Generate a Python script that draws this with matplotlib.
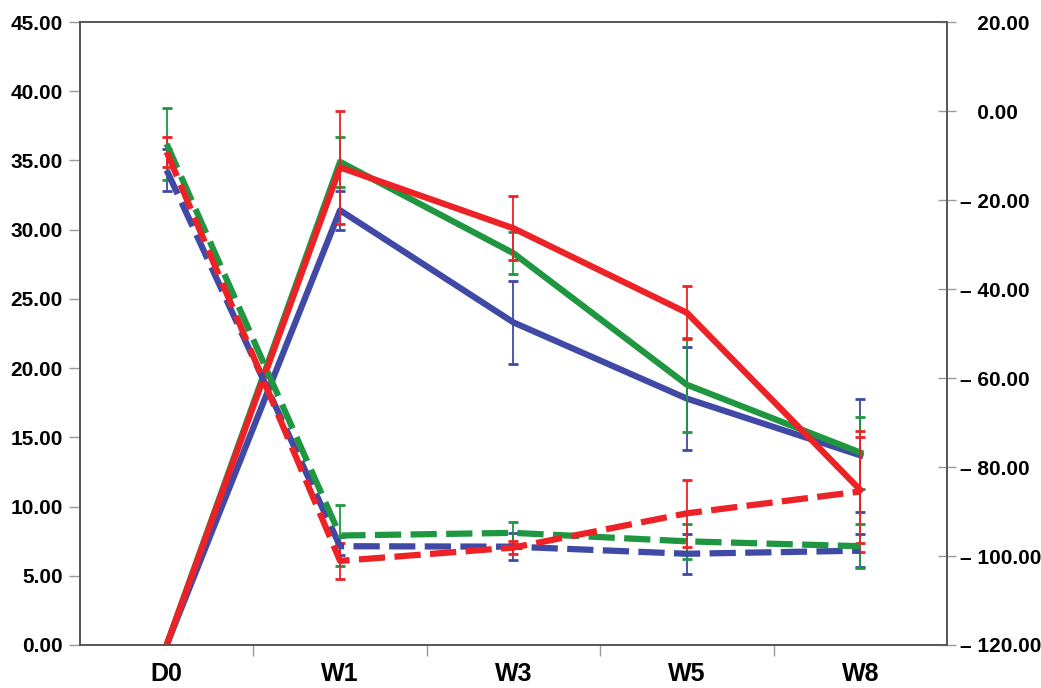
import numpy as np
import matplotlib.pyplot as plt
from matplotlib.ticker import FuncFormatter, FixedLocator

plt.rcParams['font.family'] = ['Liberation Sans', 'DejaVu Sans']
plt.rcParams['font.weight'] = 'bold'

weeks = ['D0', 'W1', 'W3', 'W5', 'W8']

# solid lines, left axis
solid_green = [0.0, 34.9, 28.3, 18.8, 13.9]
solid_green_err = [0.0, 1.8, 1.5, 3.4, 2.6]
solid_red = [0.0, 34.5, 30.1, 24.0, 11.2]
solid_red_err = [0.0, 4.1, 2.3, 1.9, 3.8]
solid_blue = [0.0, 31.4, 23.3, 17.8, 13.7]
solid_blue_err = [0.0, 1.4, 3.0, 3.7, 4.1]

# dashed lines, right axis
dash_green = [-7.4, -95.4, -94.8, -96.7, -97.8]
dash_green_err = [8.1, 6.8, 2.5, 4.0, 5.0]
dash_red = [-9.2, -101.1, -98.1, -90.4, -85.5]
dash_red_err = [3.4, 4.0, 1.5, 7.5, 13.7]
dash_blue = [-13.3, -97.8, -97.9, -99.5, -98.8]
dash_blue_err = [4.7, 2.0, 3.1, 4.5, 3.7]

green = '#1f9640'
red = '#ec2226'
blue = '#4049a6'

fig = plt.figure(figsize=(10.41, 6.88), dpi=100)
ax = fig.add_axes([0.0768, 0.0625, 0.8329, 0.9055])
ax2 = ax.twinx()

x = np.arange(len(weeks))
lw = 4.5
eb = dict(elinewidth=1.3, capsize=3.5, capthick=2)

# left axis (solid)
ax.errorbar(x, solid_blue, yerr=solid_blue_err, color=blue, lw=lw, zorder=2, **eb)
ax.errorbar(x, solid_green, yerr=solid_green_err, color=green, lw=lw, zorder=3, **eb)
ax.errorbar(x, solid_red, yerr=solid_red_err, color=red, lw=lw, zorder=4, **eb)

# right axis (dashed)
dash = (4.2, 1.5)
for vals, err, c in [(dash_blue, dash_blue_err, blue),
                     (dash_green, dash_green_err, green),
                     (dash_red, dash_red_err, red)]:
    line = ax2.errorbar(x, vals, yerr=err, color=c, lw=lw, **eb)
    line[0].set_dashes(dash)

ax.set_xlim(-0.5, 4.5)
ax.set_ylim(0, 45)
ax.set_yticks(np.arange(0, 46, 5))
ax.yaxis.set_major_formatter(FuncFormatter(lambda v, p: '{:.2f}'.format(v)))
ax2.set_ylim(-120, 20)
ax2.set_yticks(np.arange(-120, 21, 20))


def right_fmt(v, p):
    if v < 0:
        return '\u2013 {:.2f}'.format(abs(v))
    return '   {:.2f}'.format(v)


ax2.yaxis.set_major_formatter(FuncFormatter(right_fmt))

ax.set_xticks(x)
ax.set_xticklabels(weeks, fontsize=18, fontweight='bold')
ax.xaxis.set_minor_locator(FixedLocator([0.5, 1.5, 2.5, 3.5]))
ax.tick_params(axis='x', which='major', length=0, pad=12)
ax.tick_params(axis='x', which='minor', length=8, color='#999999', width=1)
ax.tick_params(axis='y', length=8, color='#999999', width=1, labelsize=15, pad=4.5)
ax2.tick_params(axis='y', direction='inout', length=13, color='#999999', width=1,
                labelsize=15, pad=3)

for a in (ax, ax2):
    for s in a.spines.values():
        s.set_color('#555555')
        s.set_linewidth(1.2)

fig.savefig('out.png', dpi=100)
